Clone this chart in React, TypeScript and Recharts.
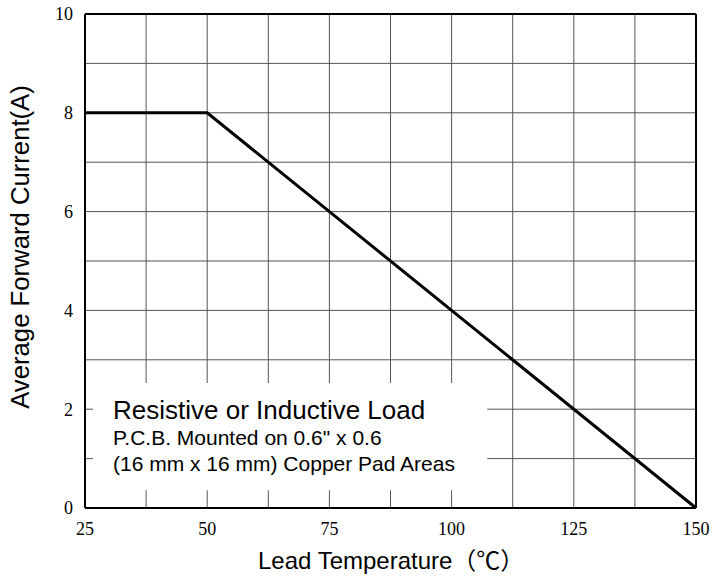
import React from "react";
import { LineChart, Line, XAxis, YAxis, CartesianGrid, ReferenceArea, ReferenceLine } from "recharts";

const temperatures = [25, 50, 150];
const currents = [8, 8, 0];
const xTicks = [25, 50, 75, 100, 125, 150];
const yTicks = [0, 2, 4, 6, 8, 10];
const xGrid = [25, 37.5, 50, 62.5, 75, 87.5, 100, 112.5, 125, 137.5, 150];
const yGrid = [0, 1, 2, 3, 4, 5, 6, 7, 8, 9, 10];
const noteLines = [
  "Resistive or Inductive Load",
  "P.C.B. Mounted on 0.6\" x 0.6",
  "(16 mm x 16 mm) Copper Pad Areas",
];
const xTitle = "Lead Temperature（℃）";
const yTitle = "Average Forward Current(A)";
const noteBox = { x1: 26.64, x2: 107.3, y1: 0.36, y2: 2.53 };

const data = temperatures.map((t, i) => ({ t, a: currents[i] }));

const sans = "'Liberation Sans', Arial, 'Noto Sans CJK SC', sans-serif";
const serif = "'Liberation Serif', 'DejaVu Serif', serif";

const NoteLabel = (props: any) => {
  const vb = props.viewBox || {};
  const x = (vb.x ?? 0) + 20;
  const y = vb.y ?? 0;
  return (
    <g>
      <text x={x} y={y + 36} fontFamily={sans} fontSize={26} fill="#000">{noteLines[0]}</text>
      <text x={x} y={y + 62} fontFamily={sans} fontSize={21} fill="#000">{noteLines[1]}</text>
      <text x={x} y={y + 88} fontFamily={sans} fontSize={21} fill="#000">{noteLines[2]}</text>
    </g>
  );
};

const XTitle = (props: any) => {
  const vb = props.viewBox || {};
  const x = (vb.x ?? 0) + 173;
  const y = (vb.y ?? 0) + 61;
  return (
    <text x={x} y={y} fontFamily={sans} fontSize={24} fill="#000" textAnchor="start">{xTitle}</text>
  );
};

const YTitle = (props: any) => {
  const vb = props.viewBox || {};
  const x = (vb.x ?? 0) + 28.5;
  const y = (vb.y ?? 0) + (vb.height ?? 0) / 2 - 14;
  return (
    <text x={x} y={y} fontFamily={sans} fontSize={25.7} fill="#000" textAnchor="middle" transform={`rotate(-90 ${x} ${y})`}>{yTitle}</text>
  );
};

export default function App() {
  return (
    <div style={{ position: "absolute", left: 0, top: 0, background: "#fff" }}>
      <LineChart width={713} height={581} data={data} margin={{ top: 14, right: 17, left: 0, bottom: 0 }}>
        <CartesianGrid
          stroke="#555"
          strokeWidth={1}
          verticalValues={xGrid}
          horizontalValues={yGrid}
        />
        <XAxis
          dataKey="t"
          type="number"
          domain={[25, 150]}
          ticks={xTicks}
          height={73}
          tickLine={false}
          tickSize={0}
          tickMargin={14}
          axisLine={{ stroke: "#000", strokeWidth: 2 }}
          tick={{ fill: "#000", fontSize: 18, fontFamily: serif }}
          label={<XTitle />}
        />
        <YAxis
          type="number"
          domain={[0, 10]}
          ticks={yTicks}
          width={85}
          tickLine={false}
          tickSize={0}
          tickMargin={12}
          axisLine={{ stroke: "#000", strokeWidth: 2 }}
          tick={{ fill: "#000", fontSize: 18, fontFamily: serif }}
          label={<YTitle />}
        />
        <ReferenceLine y={10} stroke="#000" strokeWidth={2} />
        <ReferenceLine x={150} stroke="#000" strokeWidth={2} />
        <ReferenceArea
          x1={noteBox.x1}
          x2={noteBox.x2}
          y1={noteBox.y1}
          y2={noteBox.y2}
          fill="#fff"
          fillOpacity={1}
          stroke="none"
          label={<NoteLabel />}
        />
        <Line type="linear" dataKey="a" stroke="#000" strokeWidth={3} dot={false} isAnimationActive={false} />
      </LineChart>
    </div>
  );
}
